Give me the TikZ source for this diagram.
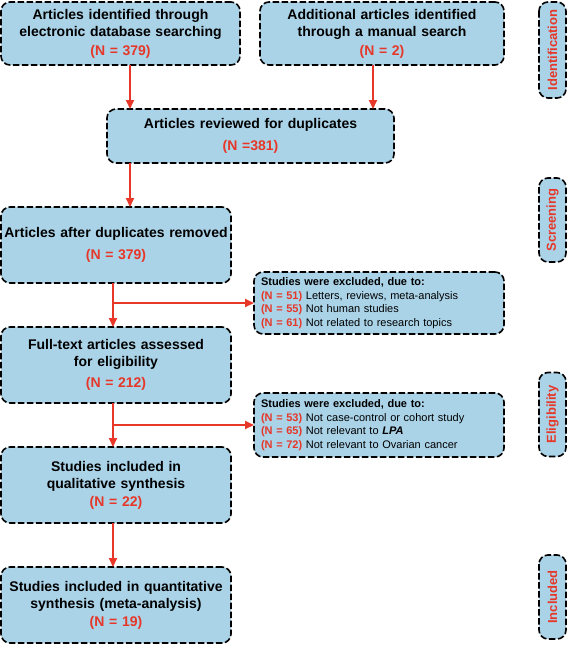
\documentclass[tikz,border=0pt]{standalone}
\usepackage{fontspec}
\setmainfont{Liberation Sans}
\usetikzlibrary{positioning,arrows.meta}
\definecolor{boxblue}{RGB}{170,211,232}
\definecolor{prisred}{RGB}{230,55,40}
\newcommand{\nval}[1]{\textcolor{prisred}{\bfseries #1}}

\begin{document}
\begin{tikzpicture}[
  x=1pt, y=1pt,
  >={Triangle[length=9pt,width=8pt]},
  node distance=44pt,
  box/.style={
    rectangle, draw, fill=boxblue, line width=1.6pt,
    dash pattern=on 6.5pt off 2.5pt, rounded corners=9pt,
    align=center, inner xsep=0pt, inner ysep=0pt, outer sep=0pt,
    font=\bfseries\fontsize{14}{17}\selectfont
  },
  mainbox/.style={box, text width=230pt, minimum height=76pt},
  exclbox/.style={
    box, align=left, text width=236pt, inner xsep=7pt,
    font=\fontsize{11}{13.5}\selectfont
  },
  stage/.style={
    box, rotate=90, minimum width=84pt, minimum height=27pt,
    text=prisred, font=\bfseries\fontsize{13}{15}\selectfont
  },
  arrow/.style={->, line width=2pt, draw=prisred}
]
\useasboundingbox (0,0) rectangle (567,-646);

\node (a1) [mainbox, text width=239pt, minimum height=63pt] at (120.5,-33.5)
  {Articles identified through\\electronic database searching\\[2pt]\nval{(N = 379)}};

\node (a2) [mainbox, text width=244pt, minimum height=63pt, right=20pt of a1]
  {Additional articles identified\\through a manual search\\[2pt]\nval{(N = 2)}};

\node (a3) [mainbox, text width=287pt, minimum height=54pt, below=of a1, xshift=130pt]
  {Articles reviewed for duplicates\\[5pt]\nval{(N =381)}};

\node (a4) [mainbox, below=of a3, xshift=-134.5pt]
  {Articles after duplicates removed\\[5pt]\nval{(N = 379)}};

\node (a5) [mainbox, below=of a4]
  {Full-text articles assessed\\for eligibility\\[4pt]\nval{(N = 212)}};

\node (a6) [mainbox, below=of a5]
  {Studies included in\\qualitative synthesis\\[1pt]\nval{(N = 22)}};

\node (a7) [mainbox, below=of a6]
  {Studies included in quantitative\\synthesis (meta-analysis)\\[1pt]\nval{(N = 19)}};

\node (e1) [exclbox, minimum height=62pt] at (379,-303)
  {\textbf{Studies were excluded, due to:}\\
   \nval{(N = 51)} Letters, reviews, meta-analysis\\
   \nval{(N = 55)} Not human studies\\
   \nval{(N = 61)} Not related to research topics};

\node (e2) [exclbox, minimum height=64pt] at (379,-425)
  {\textbf{Studies were excluded, due to:}\\
   \nval{(N = 53)} Not case-control or cohort study\\
   \nval{(N = 65)} Not relevant to \textbf{\textit{LPA}}\\
   \nval{(N = 72)} Not relevant to Ovarian cancer};

% stage labels on the right
\node (s1) [stage, minimum width=96pt] at (552.5,-50) {Identification};
\node (s2) [stage] at (552.5,-220) {Screening};
\node (s3) [stage] at (552.5,-414.5) {Eligibility};
\node (s4) [stage] at (552.5,-597) {Included};

\coordinate (p1) at ([xshift=9.5pt]a1.south);
\coordinate (p2) at ([xshift=-9pt]a2.south);
\coordinate (p3) at ([xshift=-3pt]a4.south);

\draw[arrow] (p1) -- (p1 |- a3.north);
\draw[arrow] (p2) -- (p2 |- a3.north);
\draw[arrow] (p1 |- a3.south) -- (p1 |- a4.north);
\draw[arrow] (p3) -- (p3 |- a5.north);
\draw[arrow] (p3 |- e1.west) -- (e1.west);
\draw[arrow] (p3 |- a5.south) -- (p3 |- a6.north);
\draw[arrow] (p3 |- e2.west) -- (e2.west);
\draw[arrow] (p3 |- a6.south) -- (p3 |- a7.north);
\end{tikzpicture}
\end{document}
